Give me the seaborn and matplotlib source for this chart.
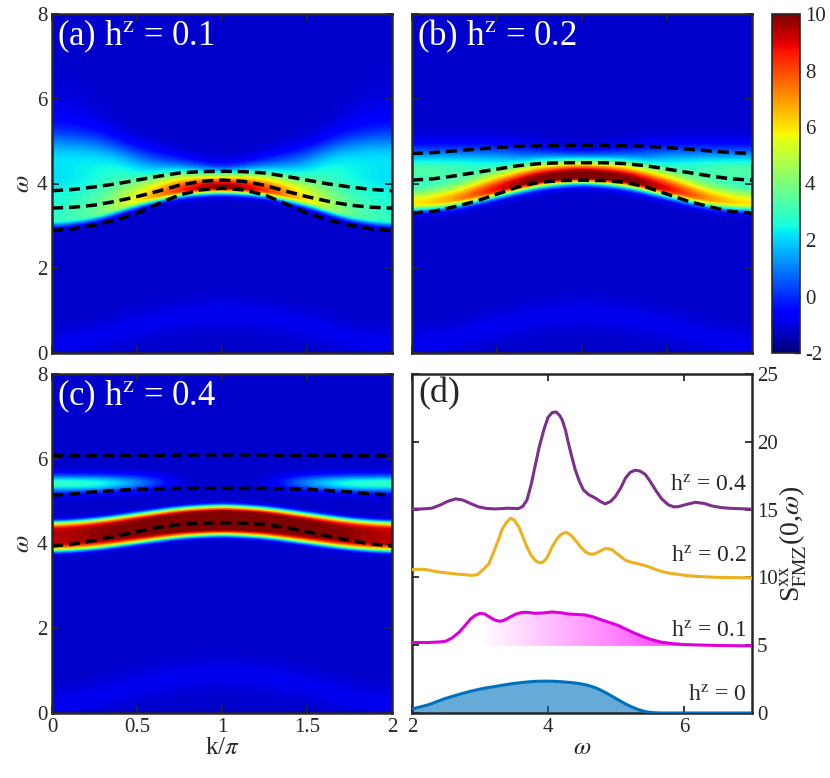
import numpy as np
import matplotlib
matplotlib.use("Agg")
import matplotlib.pyplot as plt
import seaborn as sns

k_line = [0, 0.125, 0.25, 0.375, 0.5, 0.625, 0.75, 0.875, 1,
          1.125, 1.25, 1.375, 1.5, 1.625, 1.75, 1.875, 2]
a_band1 = [3.83, 3.86, 3.92, 3.99, 4.08, 4.17, 4.25, 4.28, 4.29, 4.28, 4.25, 4.17, 4.08, 3.99, 3.92, 3.86, 3.83]
a_band2 = [3.42, 3.44, 3.49, 3.58, 3.69, 3.82, 3.96, 4.05, 4.08, 4.05, 3.96, 3.82, 3.69, 3.58, 3.49, 3.44, 3.42]
a_band3 = [2.89, 2.93, 3.02, 3.14, 3.30, 3.52, 3.73, 3.85, 3.89, 3.85, 3.73, 3.52, 3.30, 3.14, 3.02, 2.93, 2.89]
b_band1 = [4.71, 4.73, 4.77, 4.81, 4.85, 4.88, 4.89, 4.90, 4.90, 4.90, 4.89, 4.88, 4.85, 4.81, 4.77, 4.73, 4.71]
b_band2 = [4.08, 4.11, 4.18, 4.26, 4.34, 4.42, 4.47, 4.49, 4.49, 4.49, 4.47, 4.42, 4.34, 4.26, 4.18, 4.11, 4.08]
b_band3 = [3.30, 3.34, 3.45, 3.58, 3.75, 3.92, 4.03, 4.07, 4.08, 4.07, 4.03, 3.92, 3.75, 3.58, 3.45, 3.34, 3.30]
c_band1 = [6.07, 6.07, 6.07, 6.08, 6.08, 6.08, 6.09, 6.09, 6.09, 6.09, 6.09, 6.08, 6.08, 6.08, 6.07, 6.07, 6.07]
c_band2 = [5.14, 5.17, 5.22, 5.25, 5.28, 5.29, 5.30, 5.30, 5.30, 5.30, 5.30, 5.29, 5.28, 5.25, 5.22, 5.17, 5.14]
c_band3 = [3.94, 3.99, 4.07, 4.17, 4.28, 4.38, 4.45, 4.48, 4.49, 4.48, 4.45, 4.38, 4.28, 4.17, 4.07, 3.99, 3.94]

# --- spectral weight ridges, estimated at k/pi = 0, .25, .5, .75, 1 (symmetric about 1) ---
k_nodes_half = [0, 0.25, 0.5, 0.75, 1]
background = -1.2
a_main_w = [3.1, 3.25, 3.6, 3.85, 3.93]
a_main_amp = [4.0, 4.7, 7.0, 9.6, 11.5]
a_main_lo = [0.10, 0.10, 0.10, 0.10, 0.10]
a_main_hi = [1.3, 1.0, 0.45, 0.32, 0.22]
a_up_w = [4.7, 4.65, 4.5, 4.45, 4.35]
a_up_amp = [1.3, 1.4, 1.5, 0.5, 0.0]
a_up_sig = [0.35, 0.35, 0.3, 0.22, 0.15]

b_main_w = [3.5, 3.6, 3.85, 4.1, 4.2]
b_main_amp = [6.6, 7.6, 9.6, 11.5, 12.5]
b_main_lo = [0.12, 0.12, 0.12, 0.12, 0.12]
b_main_hi = [0.25, 0.25, 0.27, 0.27, 0.25]
b_up_w = [4.3, 4.32, 4.44, 4.55, 4.6]
b_up_amp = [4.6, 4.3, 3.2, 1.2, 0.0]
b_up_sig = [0.34, 0.34, 0.3, 0.25, 0.2]

c_main_w = [4.15, 4.22, 4.36, 4.5, 4.56]
c_main_amp = [10.5, 11.0, 11.5, 12.0, 12.5]
c_main_lo = [0.30, 0.30, 0.30, 0.30, 0.30]
c_main_hi = [0.30, 0.30, 0.30, 0.30, 0.30]
c_up_w = [5.42, 5.42, 5.44, 5.45, 5.45]
c_up_amp = [4.3, 4.0, 2.4, 0.0, 0.0]
c_up_sig = [0.14, 0.14, 0.13, 0.12, 0.12]

low_arc_w = [0.15, 0.35, 0.65, 0.85, 0.95]
low_arc_amp = 0.4

# --- panel (d): S(0, omega) curves, offset by 5 ---
w_h0 = [2.0, 2.12, 2.25, 2.37, 2.49, 2.62, 2.74, 2.86, 2.98, 3.1, 3.23, 3.35, 3.47, 3.6, 3.72, 3.84, 3.96,
        4.08, 4.21, 4.33, 4.45, 4.58, 4.70, 4.82, 4.94, 5.04, 5.14, 5.24, 5.33, 5.43, 5.53, 5.65, 6.0, 7.0]
s_h0 = [0.3, 0.45, 0.62, 0.85, 1.07, 1.27, 1.44, 1.6, 1.74, 1.86, 1.96, 2.07, 2.16, 2.24, 2.3, 2.34, 2.35,
        2.34, 2.3, 2.25, 2.18, 2.05, 1.86, 1.58, 1.24, 0.95, 0.67, 0.43, 0.25, 0.1, 0.03, 0.0, 0.0, 0.0]
w_h01 = [2.0, 2.25, 2.4, 2.49, 2.58, 2.69, 2.78, 2.86, 2.93, 3.0, 3.07, 3.15, 3.22, 3.30, 3.37, 3.45, 3.53,
         3.62, 3.71, 3.81, 3.93, 4.06, 4.18, 4.30, 4.42, 4.55, 4.67, 4.79, 4.92, 5.04, 5.16, 5.28, 5.4,
         5.53, 5.67, 5.82, 6.0, 6.17, 6.5, 7.0]
s_h01 = [5.2, 5.2, 5.24, 5.28, 5.5, 5.94, 6.45, 6.93, 7.2, 7.35, 7.3, 7.05, 6.85, 6.76, 6.88, 7.1, 7.3,
         7.42, 7.42, 7.35, 7.38, 7.45, 7.4, 7.3, 7.27, 7.23, 7.08, 6.86, 6.65, 6.44, 6.15, 5.87, 5.62,
         5.4, 5.22, 5.12, 5.05, 5.02, 4.98, 4.95]
w_h02 = [2.0, 2.1, 2.2, 2.39, 2.65, 2.88, 2.96, 3.03, 3.08, 3.13, 3.18, 3.23, 3.28, 3.32, 3.38, 3.45, 3.5,
         3.57, 3.63, 3.69, 3.75, 3.81, 3.86, 3.91, 3.97, 4.02, 4.06, 4.12, 4.18, 4.23, 4.28, 4.34, 4.40,
         4.47, 4.55, 4.61, 4.67, 4.75, 4.84, 4.9, 4.94, 5.04, 5.14, 5.24, 5.33, 5.42, 5.5, 5.6, 5.7,
         5.8, 5.92, 6.05, 6.2, 6.5, 7.0]
s_h02 = [10.57, 10.6, 10.58, 10.4, 10.25, 10.15, 10.2, 10.5, 10.75, 11.0, 11.6, 12.25, 12.9, 13.49, 14.0, 14.36, 14.25,
         13.73, 13.0, 12.25, 11.65, 11.26, 11.1, 11.07, 11.35, 11.8, 12.25, 12.75, 13.12, 13.28, 13.3, 13.1, 12.75,
         12.3, 11.88, 11.73, 11.71, 11.9, 12.13, 12.1, 12.05, 11.65, 11.26, 11.1, 11.0, 10.88, 10.75, 10.55, 10.4,
         10.3, 10.22, 10.13, 10.07, 10.0, 9.97]
w_h04 = [2.0, 2.15, 2.29, 2.42, 2.52, 2.64, 2.75, 2.86, 2.98, 3.1, 3.23, 3.4, 3.57, 3.63, 3.69, 3.75, 3.81,
         3.87, 3.94, 4.0, 4.06, 4.12, 4.17, 4.21, 4.26, 4.30, 4.35, 4.40, 4.46, 4.52, 4.6, 4.70, 4.77,
         4.84, 4.92, 4.99, 5.07, 5.14, 5.21, 5.28, 5.35, 5.43, 5.5, 5.58, 5.67, 5.77, 5.85, 5.92, 6.05,
         6.17, 6.3, 6.41, 6.55, 6.66, 7.0]
s_h04 = [15.03, 15.05, 15.1, 15.35, 15.6, 15.79, 15.7, 15.45, 15.2, 15.08, 15.05, 15.1, 15.08, 15.25, 15.7, 16.8, 18.2,
         19.6, 20.9, 21.8, 22.15, 22.2, 21.95, 21.6, 20.8, 19.9, 18.9, 17.95, 17.1, 16.46, 16.1, 15.84, 15.6,
         15.42, 15.6, 15.96, 16.6, 17.33, 17.75, 17.9, 17.85, 17.6, 17.1, 16.46, 15.8, 15.35, 15.2, 15.22, 15.4,
         15.54, 15.45, 15.27, 15.15, 15.1, 15.03]
curve_labels = ["h$^\\mathrm{z}$ = 0", "h$^\\mathrm{z}$ = 0.1", "h$^\\mathrm{z}$ = 0.2", "h$^\\mathrm{z}$ = 0.4"]
label_y = [1.24, 5.94, 11.5, 16.7]

col_h0 = "#0072BD"
col_h01 = "#DD00DD"
col_h02 = "#EDB120"
col_h04 = "#7E2F8E"

sns.set_style("ticks")
plt.rcParams["font.family"] = ["Liberation Serif", "DejaVu Serif"]
plt.rcParams["mathtext.fontset"] = "stix"
plt.rcParams["axes.linewidth"] = 1.5
plt.rcParams["axes.unicode_minus"] = False
plt.rcParams["xtick.direction"] = "in"
plt.rcParams["ytick.direction"] = "in"

# grid for the maps
kk = np.linspace(0, 2, 401)
ww = np.linspace(0, 8, 401)
k_nodes = np.r_[k_nodes_half, 2 - np.array(k_nodes_half[-2::-1])]


def along_k(half):
    half = np.asarray(half, dtype=float)
    full = np.r_[half, half[-2::-1]]
    v = np.interp(kk, k_nodes, full)
    n = 60
    ker = np.exp(-0.5 * (np.arange(-n, n + 1) * (kk[1] - kk[0]) / 0.07) ** 2)
    ker /= ker.sum()
    vp = np.r_[v[-n - 1:-1], v, v[1:n + 1]]
    return np.convolve(vp, ker, mode="valid")


def spectrum(main_w, main_amp, lo, hi, up_w, up_amp, up_sig, p=2.0):
    W = ww[:, None]
    Z = np.full((ww.size, kk.size), background)
    d = W - along_k(main_w)[None, :]
    s = np.where(d < 0, along_k(lo)[None, :], along_k(hi)[None, :])
    Z += along_k(main_amp)[None, :] * np.exp(-0.5 * np.abs(d / s) ** p)
    d2 = W - along_k(up_w)[None, :]
    Z += along_k(up_amp)[None, :] * np.exp(-0.5 * (d2 / along_k(up_sig)[None, :]) ** 2)
    d3 = W - along_k(low_arc_w)[None, :]
    Z += low_arc_amp * np.exp(-0.5 * (d3 / 0.25) ** 2)
    return np.clip(Z, -2, 10)


maps = {
    "a": (spectrum(a_main_w, a_main_amp, a_main_lo, a_main_hi, a_up_w, a_up_amp, a_up_sig),
          [a_band1, a_band2, a_band3], "(a) h$^\\mathrm{z}$ = 0.1"),
    "b": (spectrum(b_main_w, b_main_amp, b_main_lo, b_main_hi, b_up_w, b_up_amp, b_up_sig),
          [b_band1, b_band2, b_band3], "(b) h$^\\mathrm{z}$ = 0.2"),
    "c": (spectrum(c_main_w, c_main_amp, c_main_lo, c_main_hi, c_up_w, c_up_amp, c_up_sig, p=5.0),
          [c_band1, c_band2, c_band3], "(c) h$^\\mathrm{z}$ = 0.4"),
}

fig = plt.figure(figsize=(8.3, 7.78), dpi=100)
W0, H0 = 830, 778


def box(x0, y0, x1, y1):
    return [x0 / W0, 1 - y1 / H0, (x1 - x0) / W0, (y1 - y0) / H0]


axes = {
    "a": fig.add_axes(box(52, 14, 392, 353)),
    "b": fig.add_axes(box(412, 14, 752, 353)),
    "c": fig.add_axes(box(52, 374, 392, 713)),
    "d": fig.add_axes(box(412, 374, 752, 713)),
}
cax = fig.add_axes(box(772, 14, 800, 353))

tick_fs = 15
for key in ["a", "b", "c"]:
    ax = axes[key]
    Z, bands, title = maps[key]
    im = ax.imshow(Z, origin="lower", extent=[0, 2, 0, 8], aspect="auto", cmap="jet",
                   vmin=-2, vmax=10, interpolation="bilinear")
    for band in bands:
        ax.plot(k_line, band, color="black", lw=2.5, dashes=(3.2, 1.7))
    ax.set_xlim(0, 2)
    ax.set_ylim(0, 8)
    ax.set_xticks([0, 0.5, 1, 1.5, 2])
    ax.set_yticks([0, 2, 4, 6, 8])
    ax.tick_params(top=True, right=True, length=5, width=1.3, labelsize=tick_fs)
    ax.text(0.015, 0.99, title, transform=ax.transAxes, color="white", fontsize=25,
            ha="left", va="top")
    for sp in ax.spines.values():
        sp.set_linewidth(1.8)

axes["a"].tick_params(labelbottom=False)
axes["b"].tick_params(labelbottom=False, labelleft=False)
axes["a"].set_ylabel("$\\omega$", fontsize=18, labelpad=2)
axes["c"].set_ylabel("$\\omega$", fontsize=18, labelpad=2)
axes["c"].set_xticklabels(["0", "0.5", "1", "1.5", "2"])
axes["c"].set_xlabel("k/$\\pi$", fontsize=18, labelpad=0)
axes["a"].set_yticklabels(["0", "2", "4", "6", "8"])
axes["c"].set_yticklabels(["0", "2", "4", "6", "8"])

cb = fig.colorbar(im, cax=cax, ticks=np.arange(-2, 11, 2))
cb.ax.tick_params(labelsize=tick_fs, direction="in", length=4, width=1)
cb.outline.set_linewidth(1.2)

# panel (d)
ax = axes["d"]
ax.fill_between(w_h0, 0, s_h0, color=col_h0, alpha=0.6, lw=0)

# gradient fill under the h=0.1 curve
wx = np.array(w_h01)
sy = np.array(s_h01)
grad_x = np.linspace(0, 1, 256)
rgba = np.zeros((1, 256, 4))
rgba[..., 0] = 1.0
rgba[..., 1] = 0.1
rgba[..., 2] = 1.0
rgba[..., 3] = np.clip(grad_x * 0.72 / 0.65, 0, 0.72)
gim = ax.imshow(rgba, extent=[3.0, 7.0, 4.95, 8.0], aspect="auto", origin="lower",
                interpolation="bilinear", zorder=1)
poly = ax.fill_between(wx, 4.95, sy, color="none", lw=0)
gim.set_clip_path(poly.get_paths()[0], transform=ax.transData)

for wx_, sy_, col in [(w_h0, s_h0, col_h0), (w_h01, s_h01, col_h01),
                      (w_h02, s_h02, col_h02), (w_h04, s_h04, col_h04)]:
    sns.lineplot(x=wx_, y=sy_, ax=ax, color=col, lw=2.2, zorder=3)

for lab, yy in zip(curve_labels, label_y):
    ax.text(6.92, yy, lab, ha="right", va="center", fontsize=17)

ax.text(0.02, 0.99, "(d)", transform=ax.transAxes, fontsize=26, ha="left", va="top")
ax.set_xlim(2, 7)
ax.set_ylim(0, 25)
ax.set_xticks([2, 4, 6])
ax.set_yticks([0, 5, 10, 15, 20, 25])
ax.tick_params(top=True, right=True, left=True, labelleft=False, labelright=True,
               length=5, width=1.3, labelsize=tick_fs)
ax.set_xlabel("$\\omega$", fontsize=18, labelpad=0)
ax.yaxis.set_label_position("right")
ax.set_ylabel("S$^{\\mathrm{xx}}_{\\mathrm{FMZ}}$(0,$\\omega$)", fontsize=20, rotation=90, labelpad=0)
for sp in ax.spines.values():
    sp.set_linewidth(1.8)

fig.savefig("out.png", dpi=100)
